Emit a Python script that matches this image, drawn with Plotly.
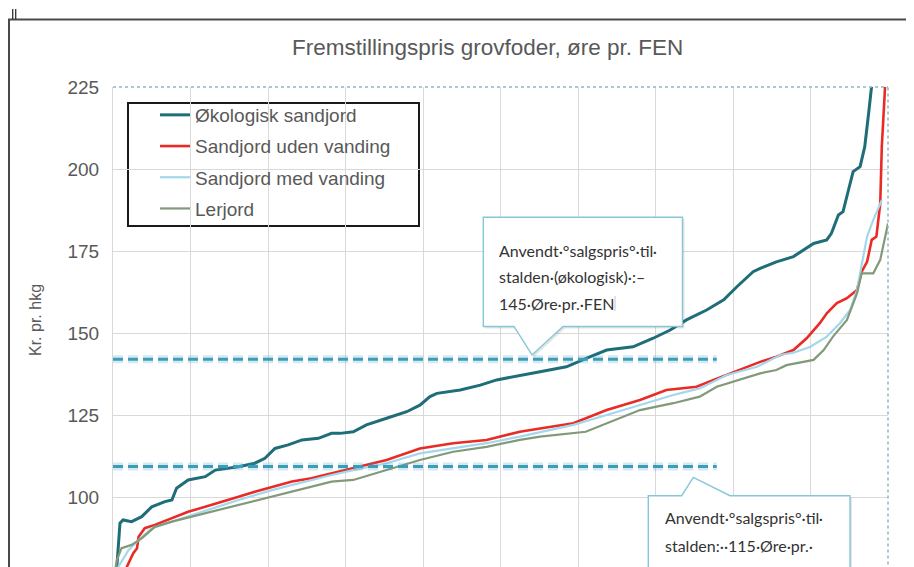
import plotly.graph_objects as go

# ---------------- data (x = share of farms, %, sorted by price) ----------------
okol_x = [0.0, 0.5, 0.9, 1.3, 2.4, 3.7, 5.0, 6.7, 7.6, 8.2, 9.7, 11.9, 13.2, 16.2, 18.3,
          19.6, 20.9, 22.6, 24.4, 26.5, 28.2, 29.3, 31.0, 32.7, 35.3, 37.9, 39.6, 40.9, 41.8, 44.8,
          47.4, 49.5, 55.1, 58.5, 61.6, 63.7, 67.1, 69.7, 71.9, 74.0, 76.6, 78.8, 80.5, 82.6, 83.5,
          85.6, 87.8, 89.5, 90.4, 92.1, 92.7, 93.6, 94.2, 94.9, 95.5, 96.4, 97.0, 97.5, 97.9, 98.2]
okol_y = [72.0, 78.8, 92.0, 93.0, 92.5, 94.0, 97.0, 98.6, 99.1, 102.7, 105.2, 106.2, 108.2, 109.2, 110.3,
          111.8, 114.8, 115.9, 117.4, 117.9, 119.4, 119.4, 119.9, 122.0, 124.0, 126.0, 128.0, 130.6, 131.6, 132.6,
          134.1, 135.7, 138.2, 139.7, 142.8, 144.8, 145.8, 148.4, 150.9, 154.0, 157.0, 160.1, 164.1, 168.7, 169.7,
          171.7, 173.3, 175.8, 177.3, 178.4, 180.4, 186.0, 187.0, 193.6, 199.2, 200.7, 206.8, 217.0, 225.0, 232.0]

red_x = [1.5, 1.8, 2.6, 3.1, 3.3, 4.1, 5.4, 7.6, 9.7, 11.9, 14.0, 16.2, 18.3, 20.5, 23.1,
         25.6, 27.4, 31.0, 35.3, 39.6, 43.9, 48.2, 52.5, 55.1, 59.4, 63.7, 68.0, 71.4, 75.3, 77.5,
         80.9, 83.5, 85.6, 87.8, 89.5, 91.2, 92.1, 93.4, 94.7, 96.0, 96.6, 97.3, 97.9, 98.5, 99.0,
         99.2, 99.6, 99.7]
red_y = [72.0, 78.8, 82.8, 84.4, 87.9, 90.5, 91.5, 93.5, 95.5, 97.0, 98.6, 100.1, 101.6, 103.1, 104.7,
         105.7, 106.7, 108.7, 111.3, 114.8, 116.4, 117.4, 119.9, 120.9, 122.5, 126.5, 129.6, 132.6, 133.6, 135.7,
         138.7, 141.2, 142.8, 144.8, 148.4, 153.0, 156.0, 159.1, 160.6, 163.1, 168.7, 171.7, 178.4, 179.4, 189.5,
         206.8, 224.1, 232.0]

blue_x = [0.5, 0.7, 2.0, 3.3, 5.0, 7.6, 11.9, 16.2, 20.5, 24.8, 28.2, 31.0, 35.3, 39.6, 43.9,
          48.2, 52.5, 56.4, 59.4, 63.7, 68.0, 72.3, 75.7, 79.2, 83.1, 86.1, 87.8, 90.0, 92.1, 93.8,
          95.1, 96.0, 96.4, 97.3, 98.1, 99.2]
blue_y = [72.0, 78.8, 83.8, 86.9, 90.5, 92.5, 96.0, 99.1, 102.1, 104.7, 106.7, 108.2, 110.3, 113.3, 114.8,
          116.4, 118.4, 120.4, 122.0, 125.0, 128.0, 131.1, 133.1, 137.2, 139.7, 143.3, 144.0, 145.8, 148.9, 153.0,
          157.0, 163.1, 168.2, 179.4, 184.5, 190.5]

ler_x = [0.0, 0.5, 1.1, 2.4, 3.7, 5.4, 7.6, 11.9, 16.2, 20.5, 24.8, 28.2, 31.0, 35.3, 39.6,
         43.9, 48.2, 52.5, 55.1, 61.0, 63.7, 68.0, 72.3, 75.7, 77.9, 80.9, 83.5, 85.6, 86.9, 90.4,
         91.7, 92.9, 94.7, 96.0, 96.6, 98.1, 99.0, 100.0]
ler_y = [74.0, 80.8, 84.4, 85.4, 87.4, 90.9, 92.5, 95.0, 97.6, 100.1, 102.7, 104.7, 105.2, 108.2, 111.3,
         113.8, 115.3, 117.4, 118.4, 119.9, 122.5, 126.5, 128.6, 130.6, 133.6, 135.7, 137.7, 138.7, 140.2, 141.8,
         144.8, 148.9, 154.0, 162.1, 168.2, 168.2, 172.3, 183.4]

series_names = ["Økologisk sandjord", "Sandjord uden vanding", "Sandjord med vanding", "Lerjord"]
price_levels = [142.0, 109.3]          # applied sales prices (reference lines)
price_line_x = [0.0, 77.9]

y_ticks = [100, 125, 150, 175, 200, 225]
y_range = [78.66, 225]

# ---------------- style ----------------
colors = ["#1F6D78", "#EA2B25", "#A3D7EC", "#82997A"]
widths = [3, 2.6, 2.2, 2.2]
GRAY = "#595959"
FONT = "Liberation Sans, Arial, sans-serif"
CFONT = "Lato, Carlito, sans-serif"

OFF = 8                       # page body margin of the html page
W, H = 914 - OFF, 567 - OFF   # figure size
L, R, T, B = 113, 888, 87, 567   # plot area in page pixels


def PX(px):
    return (px - L) / (R - L)


def PY(py):
    return (B - py) / (B - T)


fig = go.Figure()
data = [(okol_x, okol_y), (red_x, red_y), (blue_x, blue_y), (ler_x, ler_y)]
for i, ((xs, ys), name) in enumerate(zip(data, series_names)):
    fig.add_trace(go.Scatter(x=xs, y=ys, mode="lines", name=name, legendgroup=name,
                             line=dict(color=colors[i], width=widths[i])))

for lvl in price_levels:
    fig.add_trace(go.Scatter(x=price_line_x, y=[lvl, lvl], mode="lines", showlegend=False,
                             hoverinfo="skip",
                             line=dict(color="rgba(60,158,187,0.22)", width=8, dash="10px,5px")))
    fig.add_trace(go.Scatter(x=price_line_x, y=[lvl, lvl], mode="lines", showlegend=False,
                             hoverinfo="skip", line=dict(color="#3A9EBB", width=3, dash="10px,5px")))

shapes = []
# legend box
shapes.append(dict(type="rect", xref="paper", yref="paper", x0=PX(128), x1=PX(419), y0=PY(226), y1=PY(103),
                   line=dict(color="#1a1a1a", width=2), fillcolor="white", layer="between"))
# plot-area dotted border (top/right)
shapes.append(dict(type="line", xref="paper", yref="paper", x0=0, x1=1, y0=1, y1=1,
                   line=dict(color="#93B6C2", width=1.5, dash="dot")))
shapes.append(dict(type="line", xref="paper", yref="paper", x0=1, x1=1, y0=-0.02, y1=1,
                   line=dict(color="#93B6C2", width=1.5, dash="dot")))
# outer document frame
shapes.append(dict(type="line", xref="paper", yref="paper", x0=PX(9), x1=PX(9), y0=PY(19), y1=PY(580),
                   line=dict(color="#4a4a4a", width=2)))
shapes.append(dict(type="line", xref="paper", yref="paper", x0=PX(8), x1=PX(920), y0=PY(19.5), y1=PY(19.5),
                   line=dict(color="#4a4a4a", width=2)))
for mx in (12.7, 15.7):
    shapes.append(dict(type="line", xref="paper", yref="paper", x0=PX(mx), x1=PX(mx), y0=PY(9), y1=PY(19),
                       line=dict(color="#333333", width=1.3)))


def callout(box, base, tip, side):
    x0, y0, x1, y1 = box
    bl, br = base
    tx, ty = tip
    if side == "bottom":
        return [(x0, y0), (x1, y0), (x1, y1), (br, y1), (tx, ty), (bl, y1), (x0, y1)]
    return [(x0, y0), (bl, y0), (tx, ty), (br, y0), (x1, y0), (x1, y1), (x0, y1)]


def path_from(pts, dx=0.0, dy=0.0):
    s = ""
    for k, (px, py) in enumerate(pts):
        s += ("M" if k == 0 else " L") + f" {PX(px + dx):.5f},{PY(py + dy):.5f}"
    return s + " Z"


for pts in (callout((483.3, 217.3, 682.5, 326.5), (514, 563), (532, 355), "bottom"),
            callout((648.3, 495.7, 850, 600), (681.7, 730), (693.3, 477.3), "top")):
    shapes.append(dict(type="path", xref="paper", yref="paper", path=path_from(pts, 2, 2),
                       line=dict(width=0), fillcolor="rgba(0,0,0,0.10)", layer="above"))
    shapes.append(dict(type="path", xref="paper", yref="paper", path=path_from(pts),
                       line=dict(color="#86C7D6", width=1.4), fillcolor="white", layer="above"))
# text cursor in callout
shapes.append(dict(type="line", xref="paper", yref="paper", x0=PX(615), x1=PX(615), y0=PY(311), y1=PY(296),
                   line=dict(color="#C8C8C8", width=1)))

annotations = []
annotations.append(dict(text="Fremstillingspris grovfoder, øre pr. FEN", xref="paper", yref="paper",
                        x=PX(487), y=PY(48), xanchor="center", yanchor="middle", showarrow=False,
                        font=dict(family=FONT, size=22.5, color=GRAY)))
annotations.append(dict(text="Kr. pr. hkg", xref="paper", yref="paper", x=PX(35), y=PY(320),
                        xanchor="center", yanchor="middle", textangle=-90, showarrow=False,
                        font=dict(family=FONT, size=16, color=GRAY)))
callout_lines = [
    ("Anvendt·°salgspris°·til·", 497, 250),
    ("stalden·(økologisk)·:–", 497, 276.7),
    ("145·Øre·pr.·FEN", 497, 303.3),
    ("Anvendt·°salgspris°·til·", 662.7, 517),
    ("stalden:··115·Øre·pr.·", 662.7, 545),
]
for txt, px, py in callout_lines:
    annotations.append(dict(text=txt, xref="paper", yref="paper", x=PX(px), y=PY(py),
                            xanchor="left", yanchor="middle", showarrow=False,
                            font=dict(family=CFONT, size=16, color="#333333")))

fig.update_layout(
    width=W, height=H,
    margin=dict(l=L - OFF, r=W - (R - OFF), t=T - OFF, b=H - (B - OFF), pad=0),
    paper_bgcolor="white", plot_bgcolor="white",
    showlegend=True,
    legend=dict(x=PX(155), y=PY(96), xanchor="left", yanchor="top", bgcolor="rgba(0,0,0,0)",
                borderwidth=0, font=dict(family=FONT, size=19, color=GRAY),
                tracegroupgap=3.5, itemwidth=30, traceorder="grouped"),
    shapes=shapes, annotations=annotations,
)
fig.update_xaxes(range=[0, 100], dtick=10, tick0=0, showticklabels=False, showgrid=True,
                 gridcolor="#D9D9D9", gridwidth=1, zeroline=False, showline=False, ticks="")
fig.update_yaxes(range=y_range, tickvals=y_ticks, showgrid=True, gridcolor="#D9D9D9", gridwidth=1,
                 zeroline=False, showline=True, linecolor="#D9D9D9", linewidth=1,
                 ticks="outside", ticklen=9, tickcolor="rgba(0,0,0,0)",
                 tickfont=dict(family=FONT, size=19, color=GRAY))

fig.write_html("out.html")
